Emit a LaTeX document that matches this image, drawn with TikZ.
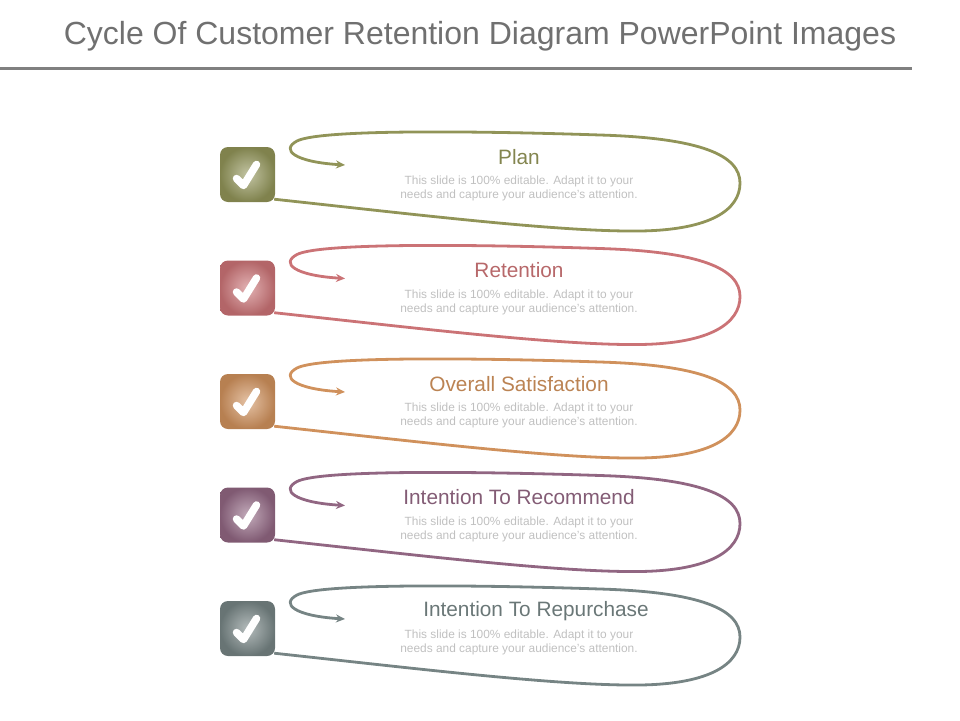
\documentclass[tikz,border=0pt]{standalone}
\usepackage{fontspec}
\setmainfont{Liberation Sans}
\usetikzlibrary{arrows.meta}

\definecolor{planc}{RGB}{145,148,88}
\definecolor{retc}{RGB}{203,115,118}
\definecolor{satc}{RGB}{208,145,92}
\definecolor{recc}{RGB}{145,102,130}
\definecolor{repc}{RGB}{118,132,132}
\definecolor{titlegray}{RGB}{112,112,112}
\definecolor{rulegray}{RGB}{128,128,128}
\definecolor{bodygray}{RGB}{192,192,192}

\tikzset{
  tickbox/.style={rounded corners=8pt, minimum size=55pt, inner sep=0pt},
  loopline/.style={line width=2.8pt, -{Stealth[length=9pt,width=8pt]}},
  tickmark/.style={white, line width=7.5pt, line cap=round, line join=round},
  headtext/.style={font=\fontsize{20.8}{24}\selectfont},
  bodytext/.style={text=bodygray, font=\fontsize{11.9}{14}\selectfont, align=center},
}

\begin{document}
\begin{tikzpicture}[x=1pt,y=-1pt]
\useasboundingbox (0,0) rectangle (960,720);
\node[text=titlegray, font=\fontsize{32}{36}\selectfont] (title) at (480,36) {Cycle Of Customer Retention Diagram PowerPoint Images};
\draw[rulegray, line width=3pt] (0,68) -- (912,68);
% one loop per step
\foreach \i/\c/\h/\hx in {0/planc/Plan/519, 1/retc/Retention/519, 2/satc/Overall Satisfaction/519, 3/recc/Intention To Recommend/519, 4/repc/Intention To Repurchase/536}{
\begin{scope}[shift={(0,113.5*\i)}]
\node[tickbox, shade, inner color=\c!55!white, outer color=\c!88!black] (box\i) at (247.5,174.5) {};
\draw[tickmark] ([shift={(-11,4)}]box\i.center) -- ([shift={(-4,11)}]box\i.center) -- ([shift={(9,-10)}]box\i.center);
\coordinate (tip\i) at (345,165);
\draw[loopline, \c] ([shift={(-1,-3)}]box\i.south east) .. controls (420,215) and (560,232) .. (640,231)
  .. controls (710,230) and (740,210) .. (740,183) .. controls (740,155) and (700,138) .. (600,135)
  .. controls (480,131) and (320,129) .. (297,141) .. controls (280,150) and (295,162) .. (tip\i);
\node[headtext, text=\c!90!black] (head\i) at (\hx,157) {\h};
\node[bodytext] (body\i) at (519,188.5) {This slide is 100\% editable. Adapt it to your\\needs and capture your audience's attention.};
\end{scope}
}
\end{tikzpicture}
\end{document}
